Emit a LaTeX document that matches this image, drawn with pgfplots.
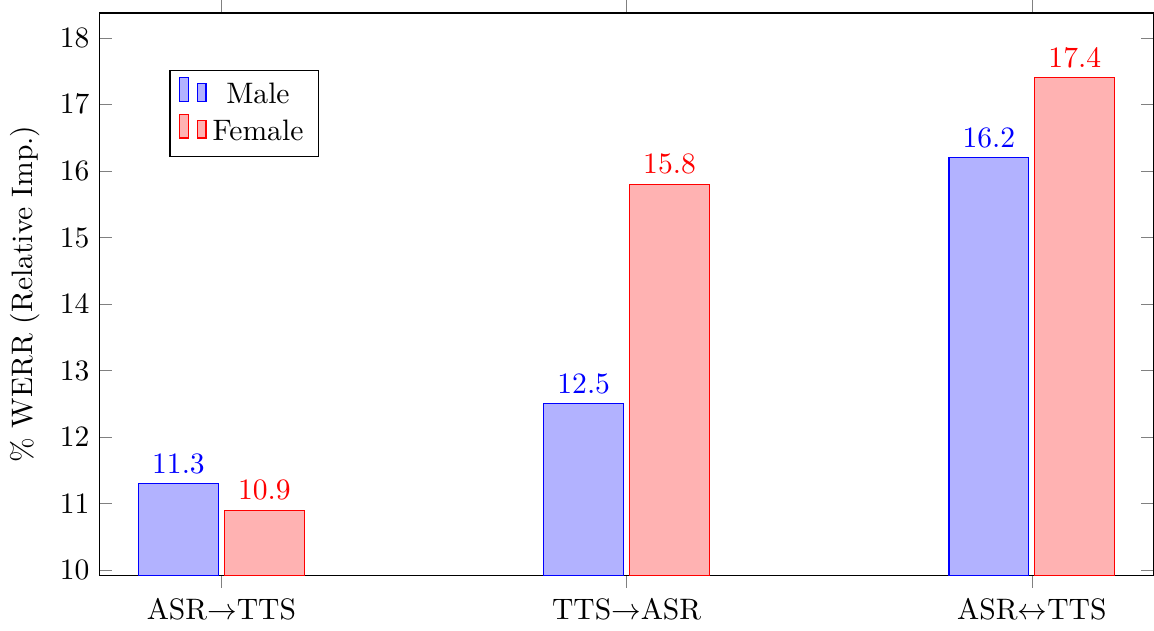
\documentclass[border=0pt]{standalone}
\usepackage{pgfplots}
\pgfplotsset{compat=1.18}

\begin{document}
\begin{tikzpicture}
\begin{axis}[
  scale only axis,
  width=356pt, height=190pt,
  ybar=2pt,
  bar width=27pt,
  xmin=-0.3, xmax=2.3,
  ymin=9.925, ymax=18.375,
  xtick=data,
  xticklabels={ASR$\rightarrow$TTS, TTS$\rightarrow$ASR, ASR$\leftrightarrow$TTS},
  xtick align=outside,
  ytick={10,11,...,18},
  ylabel={\% WERR (Relative Imp.)},
  legend style={at={(0.066,0.898)}, anchor=north west},
  nodes near coords,
  nodes near coords align={vertical},
]
\addplot[draw=blue, fill=blue!30, every node near coord/.append style={text=blue}]
  coordinates {(0,11.3) (1,12.5) (2,16.2)};
\addplot[draw=red, fill=red!30, every node near coord/.append style={text=red}]
  coordinates {(0,10.9) (1,15.8) (2,17.4)};
\legend{Male, Female}
\end{axis}
\end{tikzpicture}
\end{document}
